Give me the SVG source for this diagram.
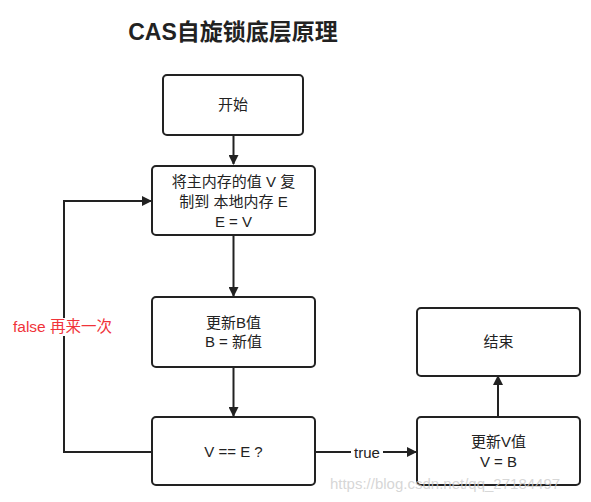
<svg xmlns="http://www.w3.org/2000/svg" width="591" height="502" viewBox="0 0 591 502">
<style>
.box{fill:#fff;stroke:#222;stroke-width:2}
.t{font-family:"Liberation Sans","Noto Sans CJK SC",sans-serif;font-size:15px;fill:#222;text-anchor:middle}
.e{stroke:#222;stroke-width:2;fill:none}
</style>
<defs>
<marker id="ar" markerWidth="10" markerHeight="10" refX="9" refY="5" orient="auto" markerUnits="userSpaceOnUse">
<path d="M0,0 L10,5 L0,10 z" fill="#222"/>
</marker>
</defs>
<rect width="591" height="502" fill="#fff"/>
<text x="233" y="40" font-family="Liberation Sans,'Noto Sans CJK SC',sans-serif" font-size="23" font-weight="bold" fill="#222" text-anchor="middle">CAS自旋锁底层原理</text>
<g id="connectors">
<path class="e" d="M233.5,135 V164" marker-end="url(#ar)"/>
<path class="e" d="M233.5,235 V296" marker-end="url(#ar)"/>
<path class="e" d="M233.5,367 V416" marker-end="url(#ar)"/>
<path class="e" d="M498,417 V376" marker-end="url(#ar)"/>
<path class="e" d="M152,452 H64 V201 H151" marker-end="url(#ar)"/>
<path class="e" d="M315,452 H416" marker-end="url(#ar)"/>
<rect x="351" y="444" width="32" height="17" fill="#fff"/>
<text class="t" x="367" y="458">true</text>
<rect x="12" y="318" width="108" height="18" fill="#fff"/>
<text x="13" y="332" font-family="Liberation Sans,'Noto Sans CJK SC',sans-serif" font-size="15.5" fill="#f0333a">false 再来一次</text>
</g>
<g id="start"><rect class="box" x="163" y="75" width="140" height="60" rx="4"/><text class="t" x="233" y="110">开始</text></g>
<g id="copy"><rect class="box" x="152" y="166" width="163" height="69" rx="4"/>
<text class="t" x="233.5" y="187">将主内存的值 V 复</text>
<text class="t" x="233.5" y="207">制到 本地内存 E</text>
<text class="t" x="233.5" y="227">E = V</text></g>
<g id="update-b"><rect class="box" x="152" y="297" width="163" height="70" rx="4"/>
<text class="t" x="233.5" y="328">更新B值</text>
<text class="t" x="233.5" y="347">B = 新值</text></g>
<g id="compare"><rect class="box" x="152" y="417" width="163" height="68" rx="4"/>
<text class="t" x="233.5" y="457">V == E ?</text></g>
<g id="update-v"><rect class="box" x="417" y="417" width="163" height="68" rx="4"/>
<text class="t" x="498.5" y="447">更新V值</text>
<text class="t" x="498.5" y="467">V = B</text></g>
<g id="end"><rect class="box" x="417" y="308" width="163" height="68" rx="4"/>
<text class="t" x="498.5" y="347">结束</text></g>
<text x="445" y="489" font-family="Liberation Sans,sans-serif" font-size="15" fill="#ccc" fill-opacity="0.8" text-anchor="middle">https://blog.csdn.net/qq_27184497</text>
</svg>
